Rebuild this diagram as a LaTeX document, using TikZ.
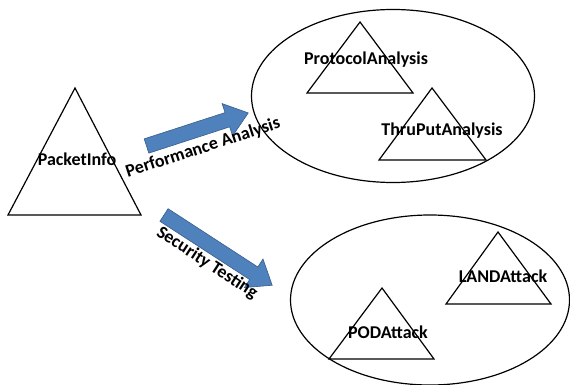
\documentclass[tikz,border=0pt]{standalone}
\usepackage{fontspec}
\setmainfont{Carlito}
\usetikzlibrary{shapes}
\usetikzlibrary{positioning}
\definecolor{arrowblue}{HTML}{4F81BD}
\definecolor{arrowedge}{HTML}{385D8A}
\tikzset{
    oval/.style = {ellipse, draw=black, line width=1.2pt, inner sep=0pt},
    tri/.style = {draw=black, line width=1.2pt, line join=miter},
    tritext/.style = {inner sep=0pt, font=\bfseries\fontsize{18}{20}\selectfont},
    flow/.style = {fill=arrowblue, draw=arrowedge, line width=0.6pt},
    flowtext/.style = {inner sep=0pt, font=\bfseries\fontsize{18}{20}\selectfont}
}

\begin{document}
\begin{tikzpicture}[x=1pt, y=-1pt]
  \useasboundingbox (0,0) rectangle (570,385);

  % the two groups
  \node[oval, minimum width=283pt, minimum height=173pt] (perf) at (393,96) {};
  \node[oval, minimum width=279pt, minimum height=170pt] (sec) at (430,300) {};

  % triangles: apex, then base
  \draw[tri] (75,88) -- (141,215) -- (8,215) -- cycle;
  \draw[tri] (360,22) -- (413,93) -- (307,93) -- cycle;
  \draw[tri] (432,88) -- (486,160) -- (379,160) -- cycle;
  \draw[tri] (498,232) -- (551,304) -- (446,304) -- cycle;
  \draw[tri] (382,288) -- (434,359) -- (329,359) -- cycle;

  \node[tritext] (packet) at (77,159) {PacketInfo};
  \node[tritext] (proto) at (366,60) {ProtocolAnalysis};
  \node[tritext] (thru) at (442,131) {ThruPutAnalysis};
  \node[tritext] (land) at (503,276) {LANDAttack};
  \node[tritext] (pod) at (388,332) {PODAttack};

  % block arrows
  \begin{scope}[shift={(146.5,146)}, rotate=18]
    \draw[flow] (0,-7.5) -- (85,-7.5) -- (85,-17) -- (107,0) -- (85,17) -- (85,7.5) -- (0,7.5) -- cycle;
  \end{scope}
  \begin{scope}[shift={(164,215)}, rotate=-33]
    \draw[flow] (0,-7.5) -- (107,-7.5) -- (107,-17) -- (129,0) -- (107,17) -- (107,7.5) -- (0,7.5) -- cycle;
  \end{scope}

  \node[flowtext, rotate=18] (perflabel) at (203,148) {Performance Analysis};
  \node[flowtext, rotate=-33] (seclabel) at (207,263) {Security Testing};
\end{tikzpicture}
\end{document}
